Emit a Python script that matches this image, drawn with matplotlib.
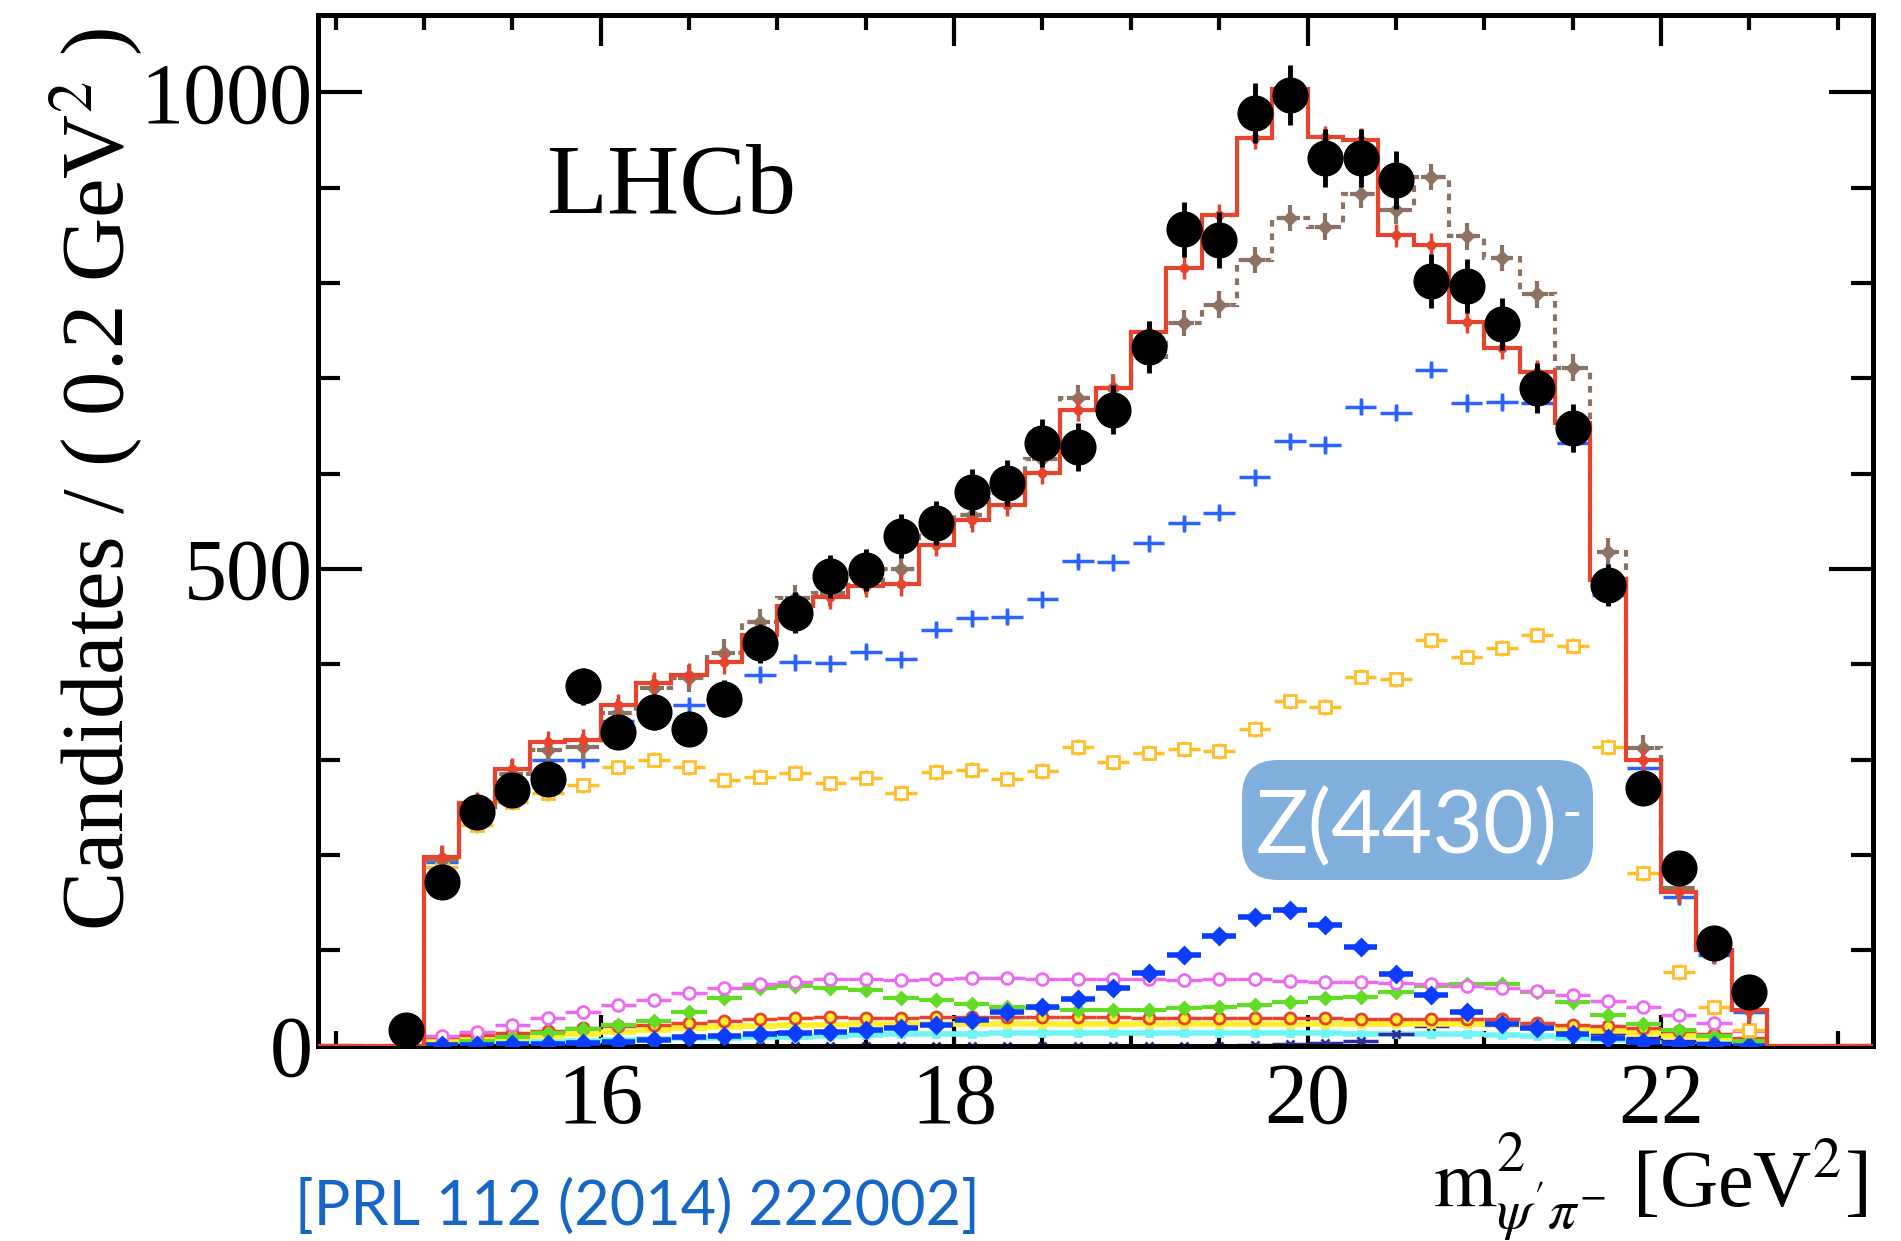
import numpy as np
import matplotlib
matplotlib.use("Agg")
import matplotlib.pyplot as plt
from matplotlib.patches import FancyBboxPatch
from matplotlib.ticker import MultipleLocator
from matplotlib import font_manager

plt.rcParams['font.family'] = ['Liberation Serif', 'DejaVu Serif']
plt.rcParams['mathtext.fontset'] = 'stix'

_names = {f.name for f in font_manager.fontManager.ttflist}
SANS_NARROW = next((n for n in ['Liberation Sans Narrow', 'DejaVu Sans Condensed', 'Lato'] if n in _names), 'DejaVu Sans')

# ---------------- data (bin width 0.2 GeV^2) ----------------
centers = [14.9, 15.1, 15.3, 15.5, 15.7, 15.9, 16.1, 16.3, 16.5, 16.7,
           16.9, 17.1, 17.3, 17.5, 17.7, 17.9, 18.1, 18.3, 18.5, 18.7,
           18.9, 19.1, 19.3, 19.5, 19.7, 19.9, 20.1, 20.3, 20.5, 20.7,
           20.9, 21.1, 21.3, 21.5, 21.7, 21.9, 22.1, 22.3, 22.5]
data = [16, 171, 245, 268, 280, 377, 329, 350, 332, 364,
        422, 454, 492, 499, 534, 548, 581, 590, 632, 628,
        667, 733, 856, 845, 978, 997, 931, 931, 908, 802,
        797, 757, 690, 648, 483, 270, 186, 108, 56]
fit_total = [0, 198, 254, 290, 318, 320, 357, 380, 389, 402,
             431, 461, 470, 482, 484, 525, 551, 567, 601, 667,
             690, 748, 816, 871, 952, 1003, 953, 950, 850, 840,
             759, 732, 707, 653, 488, 300, 161, 100, 37]
fit_noZ = [0, 195, 250, 285, 310, 313, 349, 375, 385, 412,
           444, 469, 475, 488, 500, 540, 557, 580, 615, 679,
           690, 722, 758, 777, 824, 868, 859, 893, 876, 911,
           849, 826, 788, 711, 518, 312, 165, 100, 37]
comp_blue = [0, 192, 245, 275, 300, 300, 340, 355, 357, 365,
             389, 402, 401, 413, 405, 436, 448, 450, 468, 508,
             507, 527, 548, 559, 596, 634, 630, 670, 664, 709,
             674, 675, 674, 632, 473, 291, 156, 95, 35]
comp_orange = [0, 187, 231, 255, 265, 273, 292, 300, 292, 278,
               282, 286, 275, 281, 265, 287, 289, 280, 288, 313,
               297, 307, 311, 309, 332, 361, 355, 387, 384, 425,
               408, 417, 431, 419, 313, 181, 77, 40, 16]
comp_Z = [0, 1, 1, 2, 2, 3, 4, 6, 9, 10,
          12, 13, 14, 16, 18, 22, 27, 35, 40, 49,
          60, 76, 95, 115, 135, 142, 126, 103, 75, 53,
          35, 23, 18, 12, 8, 4, 2, 1, 0]
comp_magenta = [0, 10, 14, 21, 29, 35, 42, 48, 55, 60,
                65, 67, 70, 70, 69, 70, 71, 71, 70, 70,
                70, 70, 69, 70, 70, 68, 67, 67, 66, 65,
                62, 60, 57, 53, 47, 40, 32, 24, 15]
comp_green = [0, 2, 5, 9, 13, 17, 21, 26, 35, 50,
              60, 62, 60, 58, 50, 48, 44, 40, 39, 37,
              37, 37, 39, 40, 42, 46, 50, 51, 56, 62,
              65, 65, 56, 46, 32, 23, 16, 10, 5]
comp_red = [0, 9, 11, 13, 15, 18, 20, 22, 24, 26,
            28, 29, 30, 29, 29, 30, 30, 30, 30, 30,
            30, 29, 29, 29, 29, 29, 29, 28, 28, 28,
            28, 28, 24, 22, 20, 18, 15, 12, 8]
comp_yellow = [0, 4, 6, 8, 10, 12, 14, 16, 18, 19,
               20, 21, 22, 23, 23, 23, 23, 23, 23, 23,
               23, 23, 23, 23, 23, 23, 23, 23, 23, 23,
               23, 22, 19, 17, 15, 13, 10, 8, 5]
comp_cyan = [0, 1, 2, 3, 4, 5, 6, 7, 8, 8,
             9, 9, 10, 11, 12, 12, 12, 13, 13, 13,
             13, 13, 13, 13, 13, 13, 13, 12, 12, 12,
             12, 11, 10, 8, 6, 4, 3, 2, 1]
comp_navy = [0, 0, 0, 0, 0, 0, 0, 0, 0, 0,
             0, 0, 0, 0, 0, 0, 0, 0, 0, 0,
             0, 0, 0, 0, 1, 2, 3, 5, 12, 20,
             24, 24, 22, 18, 13, 8, 5, 3, 1]

x_ticks = [16, 18, 20, 22]
y_ticks = [0, 500, 1000]
x_range = (14.4, 23.2)
y_range = (0, 1081)

# ---------------- figure ----------------
W, H = 1901, 1241
fig = plt.figure(figsize=(W / 100, H / 100), dpi=100)
ax = fig.add_axes([318 / W, 1 - 1045.5 / H, (1873 - 318) / W, 1030.5 / H])

c = np.asarray(centers)
edges = np.round(np.arange(x_range[0], x_range[1] + 0.001, 0.2), 2)
first = int(round((centers[0] - 0.1 - x_range[0]) / 0.2))

def full(vals):
    out = np.zeros(len(edges) - 1)
    out[first:first + len(vals)] = vals
    return out

RED = '#e8432d'
BROWN = '#8c7262'
LBLUE = '#2a63ff'
ORANGE = '#ffbf2a'
ZBLUE = '#0b3dff'
MAG = '#ec6cf0'
GREEN = '#63dc26'
YEL = '#fff02a'
CYAN = '#6ff5f5'
NAVY = '#2e2e9a'

s = slice(1, None)

def comp(vals, color, fmt, ms, xe, lw, mfc=None, ye=None, z=3, mew=2.0):
    v = np.asarray(vals, float)[s]
    ax.errorbar(c[s], v, xerr=xe, yerr=ye, fmt=fmt, color=color, ms=ms,
                mfc=(mfc if mfc else color), mec=color, mew=mew,
                elinewidth=lw, capsize=0, zorder=z)

comp(comp_cyan, CYAN, 's', 5, 0.1, 4.0, z=2)
comp(comp_navy, NAVY, 'x', 6, 0.1, 2.5, z=2.1)
comp(comp_yellow, YEL, 's', 5, 0.1, 4.0, z=2.2)
comp(comp_red, RED, 'o', 8, 0.1, 2.5, mfc=YEL, z=2.3)
comp(comp_green, GREEN, 'D', 6, 0.1, 3.0, ye=5, z=2.4)
comp(comp_magenta, MAG, 'o', 8.5, 0.1, 2.5, mfc='white', z=2.5)
comp(comp_Z, ZBLUE, 'D', 8, 0.095, 4.0, ye=6, z=2.6)
comp(comp_orange, ORANGE, 's', 8.5, 0.09, 2.5, mfc='white', ye=8, z=2.7)
comp(comp_blue, LBLUE, '|', 10, 0.09, 2.5, ye=9, z=2.8, mew=2.5)

# fit without Z (dashed brown)
ax.stairs(full(fit_noZ), edges, color=BROWN, lw=3.0, ls=(0, (1.6, 1.6)), zorder=3)
ax.errorbar(c[s], np.asarray(fit_noZ, float)[s], xerr=0.06, yerr=14, fmt='D', ms=7,
            color=BROWN, elinewidth=3, capsize=0, zorder=3.1)

# total fit (red)
ax.stairs(full(fit_total), edges, color=RED, lw=3.0, zorder=4)
ax.errorbar(c[s], np.asarray(fit_total, float)[s], yerr=12, fmt='o', ms=6,
            color=RED, elinewidth=2.5, capsize=0, zorder=4.1)

# data
d = np.asarray(data, float)
ax.errorbar(c, d, yerr=np.sqrt(d), fmt='o', ms=25, color='black',
            elinewidth=3.5, capsize=0, zorder=6)

ax.set_xlim(*x_range)
ax.set_ylim(*y_range)
ax.set_xticks(x_ticks)
ax.set_yticks(y_ticks)
ax.xaxis.set_minor_locator(MultipleLocator(0.5))
ax.yaxis.set_minor_locator(MultipleLocator(100))
ax.tick_params(axis='both', which='both', direction='in', top=True, right=True,
               width=3.0, labelsize=62, color='black')
ax.tick_params(axis='x', which='major', length=22, pad=12)
ax.tick_params(axis='x', which='minor', length=11)
ax.tick_params(axis='y', which='major', length=32, pad=4)
ax.tick_params(axis='y', which='minor', length=16)
for sp in ax.spines.values():
    sp.set_linewidth(3.6)

# texts
fig.text(546 / W, 1 - 212 / H, 'LHCb', fontsize=72, ha='left', va='baseline')
fig.text(97 / W, 1 - 479 / H, r'Candidates / ( 0.2 GeV$^{2}$ )', fontsize=64,
         rotation=90, ha='center', va='center')
fig.text(1867 / W, 1 - 1207 / H, r"$\mathrm{m}^{2}_{\psi'\pi^{-}}$ [GeV$^{2}$]",
         fontsize=58, ha='right', va='baseline')
prl_size = 53 if SANS_NARROW != 'Lato' else 44
fig.text(295 / W, 1 - 1225 / H, '[PRL 112 (2014) 222002]', family=SANS_NARROW,
         fontsize=prl_size, color='#1666c5', ha='left', va='baseline')

# Z(4430) label
box = FancyBboxPatch((12.42, 3.61), 3.51, 1.20,
                     boxstyle='round,pad=0,rounding_size=0.36',
                     transform=fig.dpi_scale_trans, facecolor='#82b0dc',
                     edgecolor='none', zorder=10)
fig.add_artist(box)
z_size = 68 if SANS_NARROW != 'Lato' else 63
fig.text(12.56, 3.88, 'Z(4430)', family=SANS_NARROW, fontsize=z_size, color='white',
         ha='left', va='baseline', transform=fig.dpi_scale_trans, zorder=11)
fig.text(15.72, 4.10, '-', family=SANS_NARROW, fontsize=40, color='white',
         ha='center', va='baseline', transform=fig.dpi_scale_trans, zorder=11)

fig.savefig('out.png', dpi=100)
